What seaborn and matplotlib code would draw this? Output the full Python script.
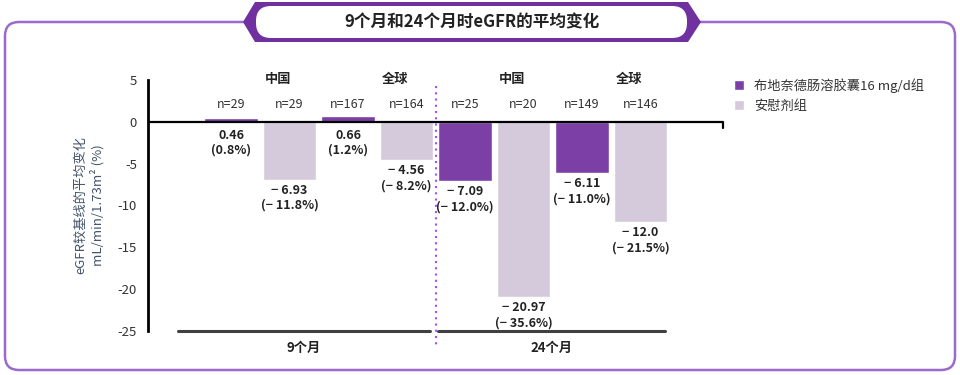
import numpy as np
import pandas as pd
import matplotlib.pyplot as plt
import seaborn as sns
from matplotlib.patches import FancyBboxPatch, Polygon

# style first, then the CJK font list (set_theme resets font.family)
sns.set_theme(style="white")
plt.rcParams['font.family'] = ['Noto Sans CJK SC', 'DejaVu Sans']

# DATA
arm_names = ["布地奈德肠溶胶囊16 mg/d组", "安慰剂组"]
arm_colors = ["#7B3FA6", "#D5C9DC"]
periods = ["9个月", "24个月"]
regions = ["中国", "全球", "中国", "全球"]
arms = arm_names * 4
n_patients = [29, 29, 167, 164, 25, 20, 149, 146]
mean_change = [0.46, -6.93, 0.66, -4.56, -7.09, -20.97, -6.11, -12.0]
value_text = ["0.46", "− 6.93", "0.66", "− 4.56", "− 7.09", "− 20.97", "− 6.11", "− 12.0"]
pct_text = ["(0.8%)", "(− 11.8%)", "(1.2%)", "(− 8.2%)",
            "(− 12.0%)", "(− 35.6%)", "(− 11.0%)", "(− 21.5%)"]
y_ticks = [5, 0, -5, -10, -15, -20, -25]

df = pd.DataFrame({"pos": range(len(mean_change)), "change": mean_change, "arm": arms})

fig = plt.figure(figsize=(9.6, 3.75), dpi=100)

# background layer in pixel units for the frame and title banner
bg = fig.add_axes([0, 0, 1, 1])
bg.set_xlim(0, 960)
bg.set_ylim(375, 0)
bg.axis('off')
bg.add_patch(FancyBboxPatch((5, 22), 950, 348, boxstyle="round,pad=0,rounding_size=14",
                            fill=False, edgecolor="#9B6BCB", lw=1.8))
bg.add_patch(Polygon([(243, 22), (255, 2), (688, 2), (701, 22), (688, 42), (255, 42)],
                     closed=True, facecolor="#7030A0", edgecolor="none"))
bg.add_patch(FancyBboxPatch((256, 6), 431, 32, boxstyle="round,pad=0,rounding_size=15",
                            facecolor="white", edgecolor="none"))
bg.text(472, 22, "9个月和24个月时eGFR的平均变化", ha="center", va="center",
        fontsize=12, fontweight="bold", color="#222222")

# chart
ax = fig.add_axes([148 / 960, 44 / 375, 575 / 960, 251 / 375])
ax.patch.set_alpha(0)
sns.barplot(data=df, x="pos", y="change", hue="arm", hue_order=arm_names,
            palette=arm_colors, dodge=False, width=0.91, saturation=1, ax=ax)

ax.set_xlim(-1.42, 8.41)
ax.set_ylim(-25, 5)
ax.set_xticks([])
ax.set_xlabel("")
ax.set_yticks(y_ticks)
ax.set_yticklabels([str(t) for t in y_ticks])
for s in ["top", "right", "bottom"]:
    ax.spines[s].set_visible(False)
ax.spines["left"].set_color("black")
ax.spines["left"].set_linewidth(2)
ax.tick_params(axis="y", direction="out", length=5, width=1.5, labelsize=9.5,
               labelcolor="#333333", color="black", pad=3)
ax.set_ylabel("eGFR较基线的平均变化\nmL/min/1.73m² (%)", fontsize=9.5,
              color="#44546A", linespacing=1.25)
ax.yaxis.set_label_coords(-0.075, 0.5)

# zero line with little end tick
ax.axhline(0, color="black", lw=1.6, zorder=3)
ax.plot([8.41, 8.41], [0, -0.7], color="black", lw=1.6, clip_on=False)

# n labels and value labels
for i, v in enumerate(mean_change):
    ax.text(i, 2.1, f"n={n_patients[i]}", ha="center", va="center", fontsize=9, color="#333333")
    off = -3 if v < 0 else -5
    ax.annotate(value_text[i] + "\n" + pct_text[i], xy=(i, min(v, 0)), xytext=(0, off),
                textcoords="offset points", ha="center", va="top", fontsize=9,
                fontweight="bold", color="#222222", linespacing=1.2)

# region headings
for k, r in enumerate(regions):
    ax.text(2 * k + 0.5 + 0.3, 5.1, r, ha="center", va="center", fontsize=9.5,
            fontweight="bold", color="#222222")

# period lines and labels at the bottom
period_spans = [(-0.91, 3.40), (3.54, 7.42)]
for (x0, x1), p in zip(period_spans, periods):
    ax.plot([x0, x1], [-25, -25], color="#404040", lw=2.2, clip_on=False)
    ax.annotate(p, xy=((x0 + x1) / 2, -25), xytext=(0, -7), textcoords="offset points",
                ha="center", va="top", fontsize=9.5, fontweight="bold", color="#222222",
                annotation_clip=False)

# dotted divider between the two time points
ax.plot([3.5, 3.5], [4.3, -26.7], color="#A64DFF", lw=1.5, linestyle=(0, (1, 2)),
        clip_on=False)

# legend
handles, labels = ax.get_legend_handles_labels()
ax.legend(handles, labels, loc="upper left", bbox_to_anchor=(722 / 960, (375 - 66) / 375),
          bbox_transform=fig.transFigure, frameon=False, fontsize=9.5,
          handlelength=0.8, handleheight=0.8, handletextpad=0.7, labelspacing=0.55,
          labelcolor="#333333")

fig.savefig("out.png", dpi=100)
